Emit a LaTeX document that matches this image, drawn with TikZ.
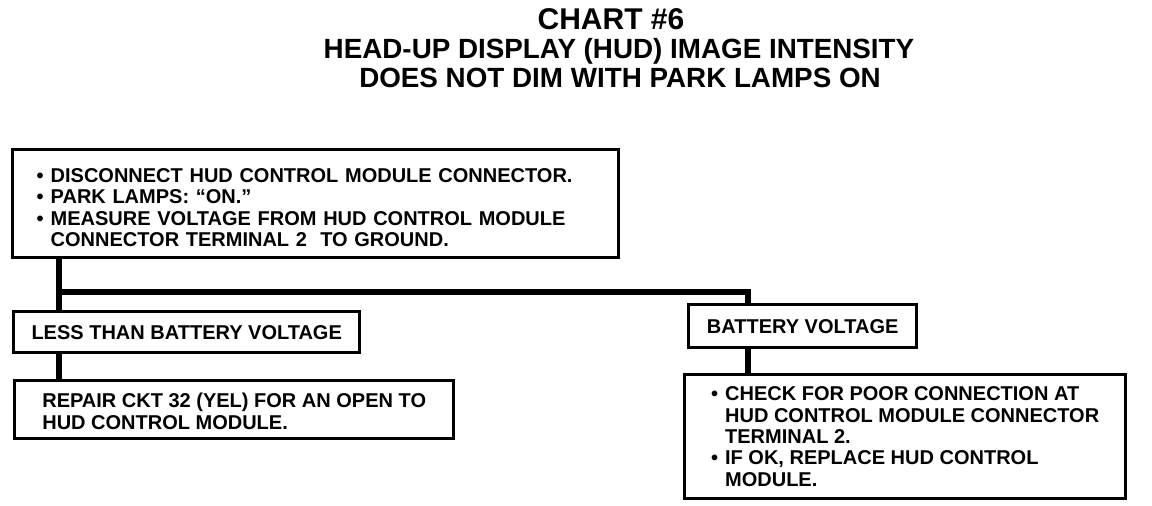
\documentclass[tikz,border=0pt]{standalone}
\usepackage{fontspec}
\setmainfont{Liberation Sans}
\usetikzlibrary{positioning}
\newcommand{\itm}[1]{\makebox[7pt][l]{\textbullet}#1}
\newcommand{\cnt}[1]{\hspace*{7pt}#1}

\begin{document}
\begin{tikzpicture}[x=0.5pt,y=-0.5pt,
    chartbox/.style={draw,line width=1.7pt,anchor=north west,align=left,
      inner xsep=11pt,inner ysep=0pt,
      font=\fontsize{10}{10.7}\selectfont\bfseries},
    flowline/.style={line width=2.8pt},
    heading/.style={anchor=base,font=\fontsize{13.9}{16}\selectfont\bfseries}]
  \useasboundingbox (0,0) rectangle (1152,506);
  % title
  \node[heading,font=\fontsize{15}{18}\selectfont\bfseries] (title) at (611,30) {CHART \#6};
  \node[heading] (subone) at (619,59) {HEAD-UP DISPLAY (HUD) IMAGE INTENSITY};
  \node[heading] (subtwo) at (620,88) {DOES NOT DIM WITH PARK LAMPS ON};
  % test step
  \node[chartbox,text width=279pt,inner xsep=12pt,minimum height=54pt] (measure) at (11,148) {%
    \rule{0pt}{11pt}\itm{DISCONNECT HUD CONTROL MODULE CONNECTOR.}\\
    \itm{PARK LAMPS: “ON.”}\\
    \itm{MEASURE VOLTAGE FROM HUD CONTROL MODULE}\\
    \cnt{CONNECTOR TERMINAL 2\ \ TO GROUND.}};
  % results
  \node[chartbox,inner xsep=8pt,minimum width=173pt,minimum height=20.5pt] (less) at (12,310) {LESS THAN BATTERY VOLTAGE};
  \node[chartbox,inner xsep=8pt,minimum width=114pt,minimum height=21.5pt] (batt) at (687,303) {BATTERY VOLTAGE};
  % repairs
  \node[chartbox,minimum width=219.5pt,minimum height=29pt] (repair) at (13,379) {%
    \rule{0pt}{9pt}REPAIR CKT 32 (YEL) FOR AN OPEN TO\\
    HUD CONTROL MODULE.};
  \node[chartbox,minimum width=220.5pt,minimum height=62pt] (check) at (683,373) {%
    \itm{CHECK FOR POOR CONNECTION AT}\\
    \cnt{HUD CONTROL MODULE CONNECTOR}\\
    \cnt{TERMINAL 2.}\\
    \itm{IF OK, REPLACE HUD CONTROL}\\
    \cnt{MODULE.}};
  % connectors
  \coordinate (split) at (59,292);
  \coordinate (turn) at (748,292);
  \draw[flowline] (measure.south -| split) -- (less.north -| split);
  \draw[flowline] (split) -- (turn) -- (turn |- batt.north);
  \draw[flowline] (less.south -| split) -- (repair.north -| split);
  \draw[flowline] (batt.south -| turn) -- (check.north -| turn);
\end{tikzpicture}
\end{document}
